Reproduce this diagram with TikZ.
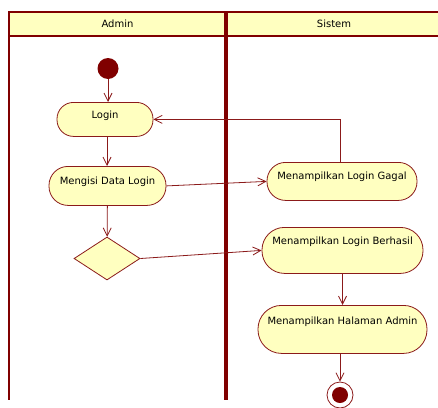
\documentclass[tikz,border=0pt]{standalone}
\usepackage{fontspec}
\setmainfont{DejaVu Sans}
\usetikzlibrary{arrows.meta,shapes.geometric}
\definecolor{lanered}{HTML}{800000}
\definecolor{flowred}{HTML}{8B1A1A}
\definecolor{actfill}{HTML}{FFFFC0}
\begin{document}
\begin{tikzpicture}[x=1pt,y=-1pt,
  font=\fontsize{10}{12}\selectfont,
  lane/.style={draw=lanered,line width=2pt},
  act/.style={rectangle,draw=flowred,fill=actfill,line width=0.8pt,
    inner sep=0pt,anchor=north,rounded corners=#1},
  flow/.style={draw=flowred,line width=0.8pt,-{Straight Barb[length=8pt,width=8pt]}},
  decision/.style={diamond,draw=flowred,fill=actfill,line width=0.8pt,inner sep=0pt,
    minimum width=66pt,minimum height=43pt,aspect=1.53}]
\useasboundingbox (0,0) rectangle (438,407);
\clip (0,0) rectangle (438,407);
\fill[white] (0,0) rectangle (438,407);

% swimlanes
\draw[lane,fill=actfill] (9,12) rectangle (450,36);
\draw[lane] (9,12) -- (9,400);
\draw[draw=lanered,line width=4pt] (226,12) -- (226,400);
\node (hadmin) at (117.5,24) {Admin};
\node (hsistem) at (334,24) {Sistem};

% start / end
\node[circle,fill=lanered,minimum size=21pt,inner sep=0pt] (start) at (108,68.5) {};
\node[circle,draw=flowred,fill=white,line width=0.8pt,minimum size=26pt,inner sep=0pt] (end) at (340,395) {};
\node[circle,fill=lanered,minimum size=16pt,inner sep=0pt] (endin) at (end.center) {};

% activities
\node[act=16.5pt,minimum width=96pt,text height=16pt,text depth=18pt] (login) at (105,102) {Login};
\node[act=19pt,minimum width=117pt,text height=18pt,text depth=21pt] (isi) at (107.5,166) {Mengisi Data Login};
\node[decision] (dec) at (107,258.5) {};
\node[act=18.5pt,minimum width=150pt,text height=17pt,text depth=21pt] (gagal) at (342,162) {Menampilkan Login Gagal};
\node[act=22.5pt,minimum width=161pt,text height=17pt,text depth=29pt] (berhasil) at (342.5,227) {Menampilkan Login Berhasil};
\node[act=23.5pt,minimum width=169pt,text height=19pt,text depth=29pt] (halaman) at (342.5,305) {Menampilkan Halaman Admin};

% flows
\draw[flow] (start) -- (start |- login.north);
\draw[flow] (login.south -| 107,0) -- (isi.north -| 107,0);
\draw[flow] (isi) -- (dec);
\draw[flow] (isi.east) -- (gagal.west);
\draw[flow] (gagal.north -| 340,0) |- (login.east);
\draw[flow] (dec.east) -- (berhasil.west);
\draw[flow] (berhasil) -- (halaman);
\draw[flow] (halaman.south -| end.north) -- (end.north);
\end{tikzpicture}
\end{document}
